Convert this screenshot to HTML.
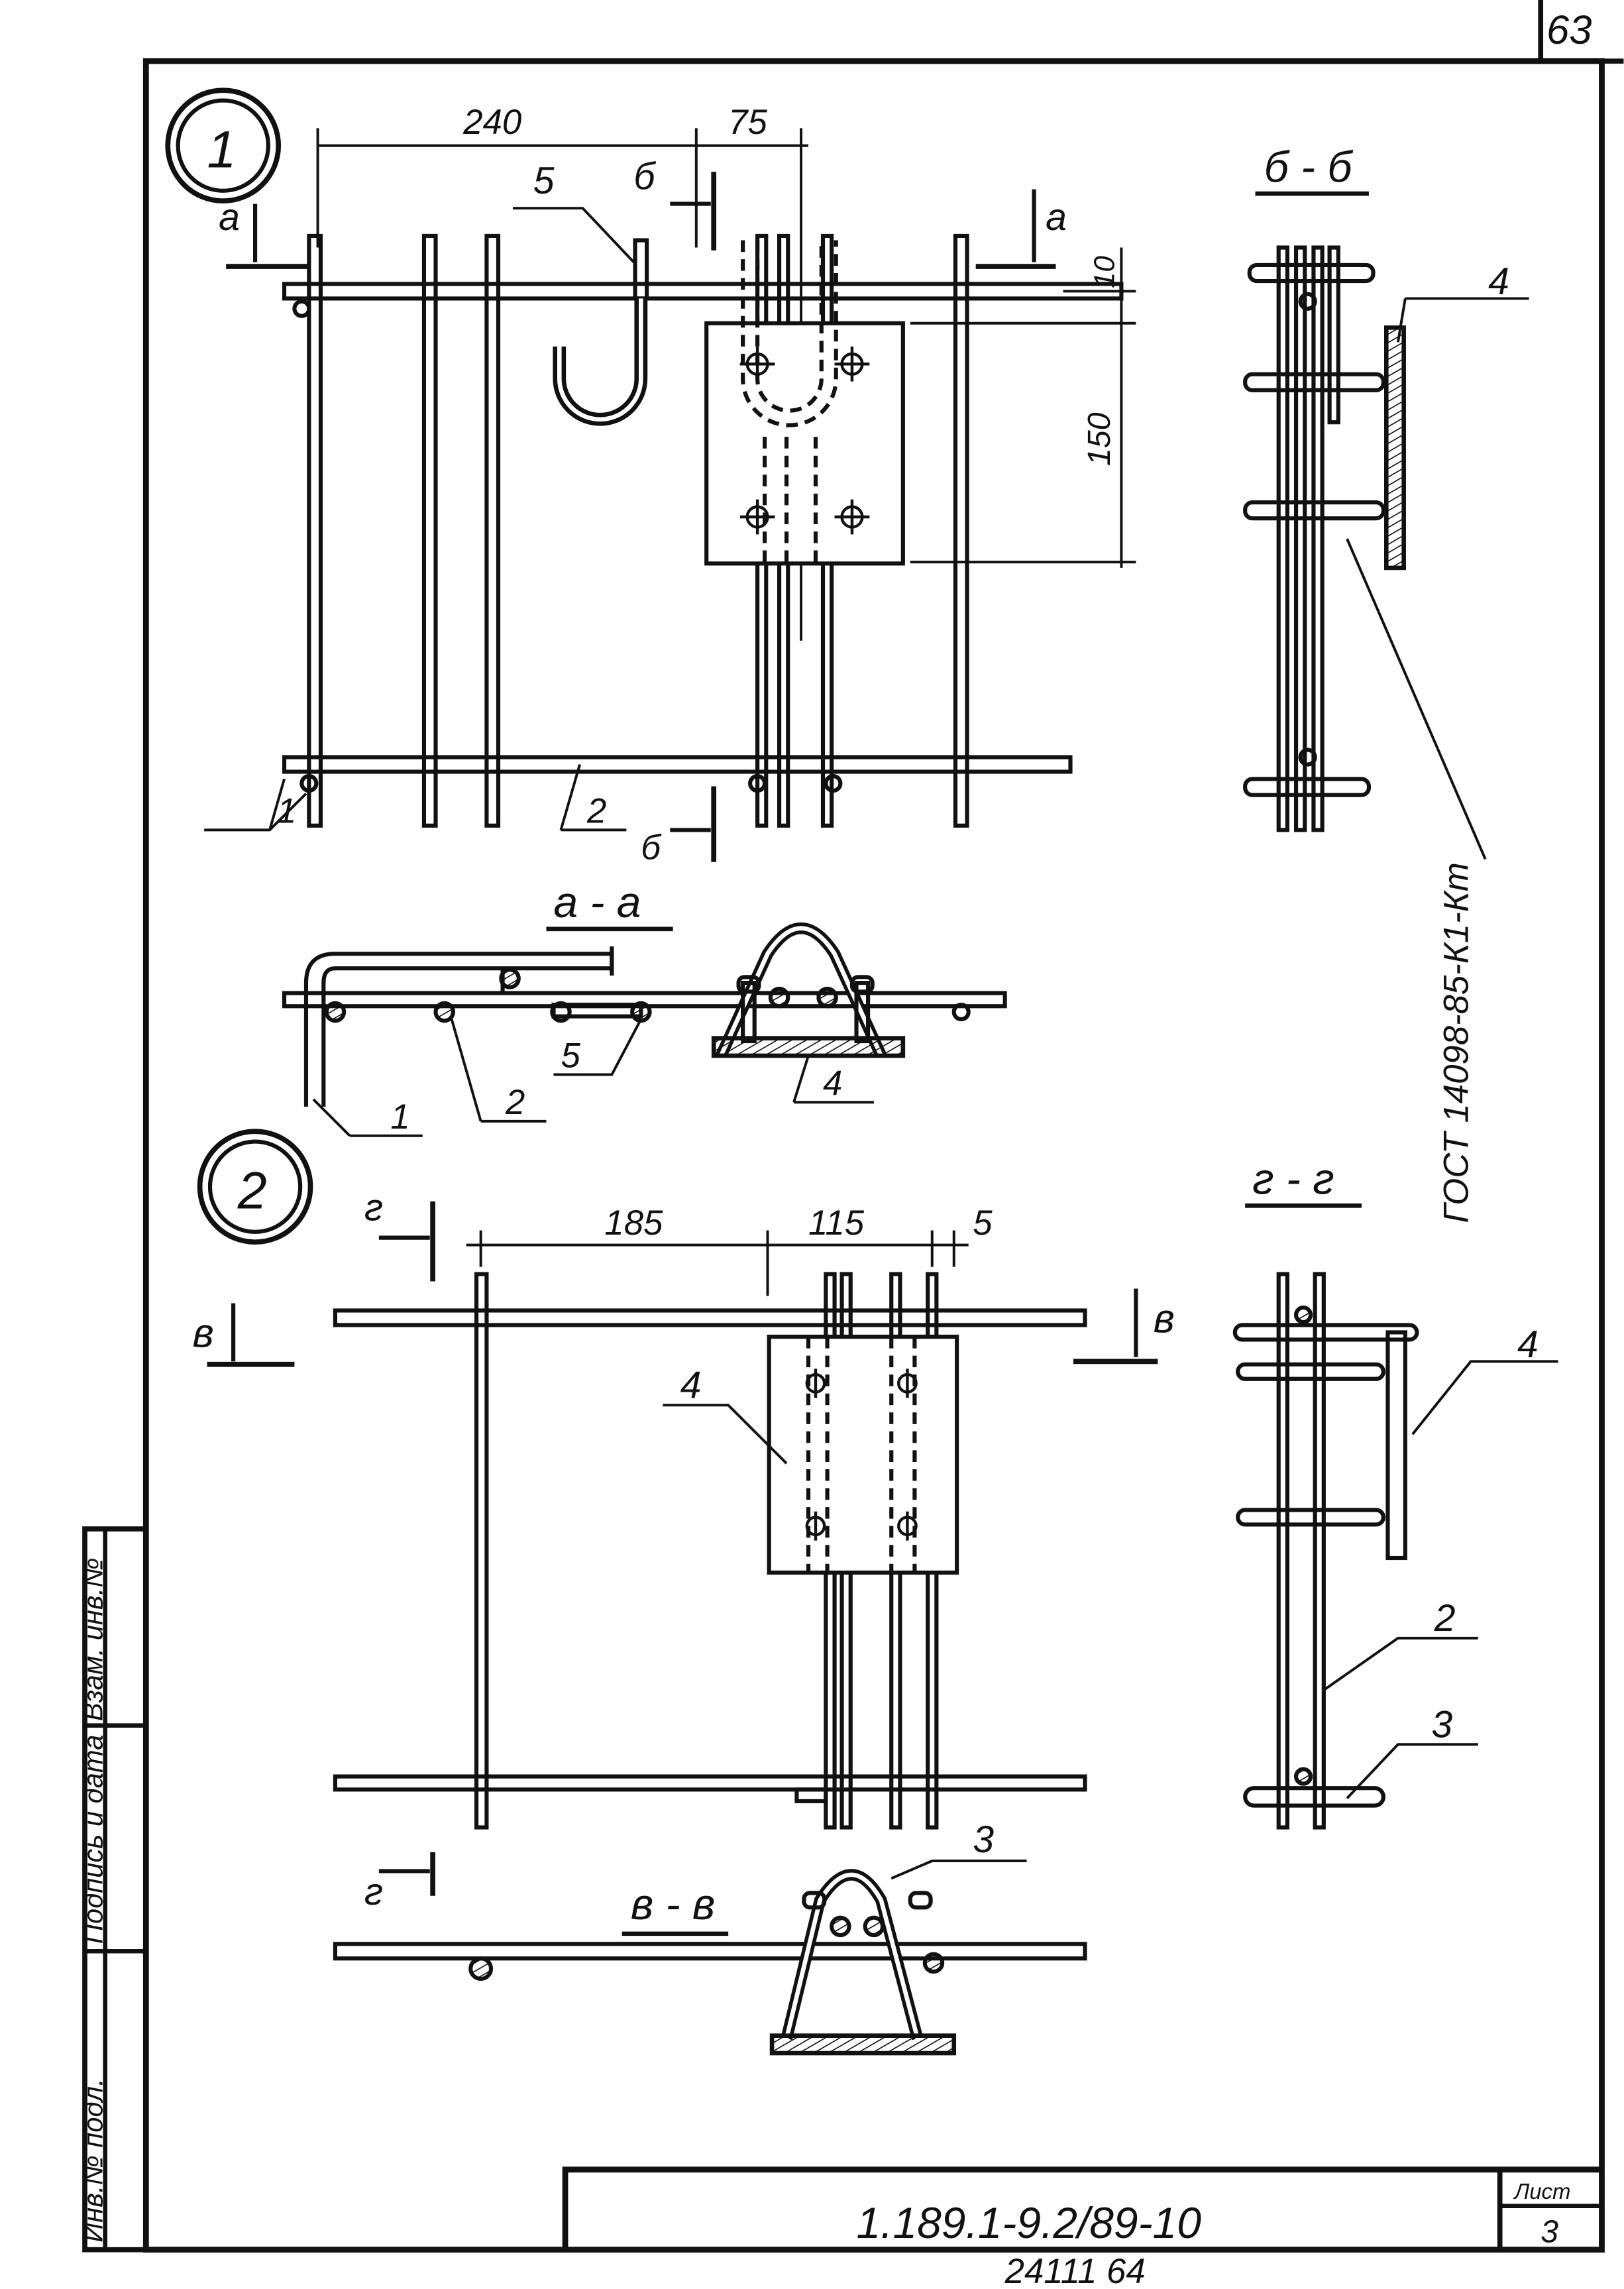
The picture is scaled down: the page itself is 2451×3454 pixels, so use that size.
<!DOCTYPE html>
<html><head><meta charset="utf-8"><style>
html,body{margin:0;padding:0;background:#fff}
svg{display:block}
text{font-family:"Liberation Sans","DejaVu Sans",sans-serif;font-style:italic;fill:#111}
</style></head><body>
<svg width="2451" height="3454" viewBox="0 0 1115 1572" xmlns="http://www.w3.org/2000/svg" fill="none" stroke="#111" stroke-width="2.8">
<defs>
<pattern id="h" width="5" height="5" patternUnits="userSpaceOnUse" patternTransform="rotate(60)"><line x1="0" y1="0" x2="0" y2="5" stroke="#111" stroke-width="1.5"/></pattern>
</defs>
<polyline points="1058,0 1058,42 1115,42" stroke-width="3.5"/>
<text x="1062" y="30" font-size="28" stroke="none">63</text>
<rect x="100" y="42" width="1000" height="1503" stroke-width="4"/>
<rect x="58" y="1050" width="42" height="495" stroke-width="3.5"/>
<line x1="72" y1="1050" x2="72" y2="1545" stroke-width="3"/>
<line x1="58" y1="1185" x2="100" y2="1185" stroke-width="3"/>
<line x1="58" y1="1340" x2="100" y2="1340" stroke-width="3"/>
<text transform="translate(70,1182) rotate(-90)" font-size="19" stroke="none">Взам. инв.№</text>
<text transform="translate(70,1335) rotate(-90)" font-size="19" stroke="none">Подпись и дата</text>
<text transform="translate(70,1540) rotate(-90)" font-size="19" stroke="none">Инв.№ подл.</text>
<polyline points="388,1545 388,1490 1100,1490" stroke-width="4"/>
<line x1="1030" y1="1490" x2="1030" y2="1545" stroke-width="3.5"/>
<line x1="1030" y1="1515" x2="1100" y2="1515" stroke-width="3"/>
<text x="1040" y="1510" font-size="15" stroke="none">Лист</text>
<text x="1058" y="1540" font-size="22" stroke="none">3</text>
<text x="588" y="1537" font-size="30" stroke="none">1.189.1-9.2/89-10</text>
<text x="690" y="1568" font-size="24" stroke="none">24111  64</text>

<circle cx="153" cy="100" r="38" stroke-width="3.5"/><circle cx="153" cy="100" r="31"/>
<text x="142" y="115" font-size="36" stroke="none">1</text>
<line x1="218" y1="100" x2="555" y2="100" stroke-width="1.8"/>
<line x1="218" y1="88" x2="218" y2="170" stroke-width="1.8"/>
<line x1="478" y1="88" x2="478" y2="170" stroke-width="1.8"/>
<line x1="550" y1="88" x2="550" y2="440" stroke-width="1.8"/>
<text x="318" y="92" font-size="24" stroke="none">240</text>
<text x="500" y="92" font-size="24" stroke="none">75</text>
<line x1="625" y1="222" x2="780" y2="222" stroke-width="1.8"/>
<line x1="625" y1="386" x2="780" y2="386" stroke-width="1.8"/>
<line x1="730" y1="200" x2="780" y2="200" stroke-width="1.8"/>
<line x1="770" y1="170" x2="770" y2="390" stroke-width="1.8"/>
<text transform="translate(762,320) rotate(-90)" font-size="22" stroke="none">150</text>
<text transform="translate(765,198) rotate(-90)" font-size="20" stroke="none">10</text>
<polyline points="155,183 212,183" stroke-width="3.5"/><line x1="175" y1="140" x2="175" y2="180"/>
<text x="150" y="158" font-size="26" stroke="none">a</text>
<polyline points="670,183 725,183" stroke-width="3.5"/><line x1="710" y1="130" x2="710" y2="180"/>
<text x="718" y="158" font-size="26" stroke="none">a</text>
<line x1="490" y1="118" x2="490" y2="172" stroke-width="3.5"/><line x1="460" y1="140" x2="488" y2="140"/>
<text x="435" y="130" font-size="26" stroke="none">б</text>
<line x1="490" y1="540" x2="490" y2="592" stroke-width="3.5"/><line x1="460" y1="570" x2="488" y2="570"/>
<text x="440" y="590" font-size="24" stroke="none">б</text>
<rect x="195" y="195" width="575" height="10"/>
<rect x="195" y="520" width="540" height="10"/>
<g>
<rect x="212" y="162" width="8" height="405"/><rect x="291" y="162" width="8" height="405"/>
<rect x="334" y="162" width="8" height="405"/><rect x="520" y="162" width="6" height="405"/>
<rect x="535" y="162" width="6" height="405"/><rect x="565" y="162" width="6" height="405"/>
<rect x="656" y="162" width="8" height="405"/>
<rect x="436" y="165" width="8" height="40"/>
</g>
<circle cx="207" cy="212" r="5"/><circle cx="212" cy="538" r="5"/><circle cx="520" cy="538" r="5"/><circle cx="572" cy="538" r="5"/>
<path d="M440,205 L440,260 A28,28 0 0 1 384,260 L384,238" stroke-width="9"/>
<path d="M440,205 L440,260 A28,28 0 0 1 384,260 L384,238" stroke="#fff" stroke-width="3"/>
<rect x="485" y="222" width="135" height="165" fill="#fff"/>
<path d="M510,165 L510,260 A32,32 0 0 0 574,260 L574,165" stroke-dasharray="8,5"/>
<path d="M520,165 L520,260 A22,22 0 0 0 564,260 L564,165" stroke-dasharray="8,5"/>
<line x1="525" y1="300" x2="525" y2="387" stroke-dasharray="8,5"/>
<line x1="540" y1="300" x2="540" y2="387" stroke-dasharray="8,5"/>
<line x1="560" y1="300" x2="560" y2="387" stroke-dasharray="8,5"/>
<g stroke-width="2"><circle cx="520" cy="250" r="7"/><circle cx="585" cy="250" r="7"/><circle cx="520" cy="355" r="7"/><circle cx="585" cy="355" r="7"/>
<path d="M508,250h24M520,238v24M573,250h24M585,238v24M508,355h24M520,343v24M573,355h24M585,343v24"/></g>
<text x="366" y="133" font-size="26" stroke="none">5</text>
<polyline points="352,143 400,143 435,180" stroke-width="1.8"/>
<polyline points="140,570 185,570 210,545" stroke-width="1.8"/><line x1="185" y1="570" x2="195" y2="535" stroke-width="1.8"/>
<text x="190" y="565" font-size="24" stroke="none">1</text>
<polyline points="385,570 430,570" stroke-width="1.8"/><line x1="385" y1="570" x2="398" y2="525" stroke-width="1.8"/>
<text x="403" y="565" font-size="24" stroke="none">2</text>

<text x="380" y="630" font-size="30" stroke="none">a - a</text>
<line x1="375" y1="638" x2="462" y2="638" stroke-width="3"/>
<rect x="195" y="682" width="495" height="9"/>
<path d="M210,760 L210,675 Q210,655 230,655 L420,655 L420,665 L230,665 Q222,665 222,675 L222,760"/>
<line x1="420" y1="650" x2="420" y2="670"/>
<line x1="345" y1="665" x2="345" y2="682"/>
<circle cx="230" cy="695" r="6" fill="url(#h)"/><circle cx="305" cy="695" r="6" fill="url(#h)"/><circle cx="350" cy="672" r="6" fill="url(#h)"/>
<circle cx="385" cy="695" r="6"/><circle cx="440" cy="695" r="6" fill="url(#h)"/><circle cx="660" cy="695" r="5"/>
<rect x="380" y="690" width="60" height="8"/>
<path d="M495,725 L527,655 Q550,620 573,655 L605,725" stroke-width="8"/>
<path d="M495,725 L527,655 Q550,620 573,655 L605,725" stroke="#fff" stroke-width="3"/>
<rect x="510" y="675" width="8" height="40"/><rect x="588" y="675" width="8" height="40"/>
<rect x="507" y="671" width="14" height="10" rx="4"/><rect x="585" y="671" width="14" height="10" rx="4"/>
<circle cx="535" cy="685" r="6" fill="url(#h)"/><circle cx="568" cy="685" r="6" fill="url(#h)"/>
<rect x="490" y="713" width="130" height="12" fill="url(#h)" stroke-width="3"/>
<polyline points="240,780 290,780" stroke-width="1.8"/><line x1="240" y1="780" x2="215" y2="755" stroke-width="1.8"/>
<text x="268" y="775" font-size="24" stroke="none">1</text>
<polyline points="330,770 375,770" stroke-width="1.8"/><line x1="330" y1="770" x2="310" y2="700" stroke-width="1.8"/>
<text x="347" y="765" font-size="24" stroke="none">2</text>
<polyline points="380,738 420,738 440,700" stroke-width="1.8"/>
<text x="385" y="733" font-size="24" stroke="none">5</text>
<polyline points="545,757 600,757" stroke-width="1.8"/><line x1="545" y1="757" x2="555" y2="725" stroke-width="1.8"/>
<text x="565" y="752" font-size="24" stroke="none">4</text>

<text x="868" y="125" font-size="30" stroke="none">б - б</text>
<line x1="862" y1="133" x2="940" y2="133" stroke-width="3"/>
<rect x="878" y="170" width="6" height="400"/><rect x="890" y="170" width="6" height="400"/><rect x="902" y="170" width="6" height="400"/><rect x="913" y="170" width="6" height="120"/>
<rect x="858" y="182" width="85" height="11" rx="5"/>
<rect x="855" y="257" width="95" height="11" rx="5"/><rect x="855" y="345" width="95" height="11" rx="5"/>
<rect x="855" y="535" width="85" height="11" rx="5"/>
<circle cx="898" cy="207" r="5"/><circle cx="898" cy="520" r="5"/>
<rect x="952" y="225" width="12" height="165" fill="url(#h)" stroke-width="3"/>
<polyline points="965,205 1050,205" stroke-width="1.8"/><line x1="965" y1="205" x2="960" y2="235" stroke-width="1.8"/>
<text x="1022" y="202" font-size="26" stroke="none">4</text>
<line x1="925" y1="370" x2="1020" y2="590" stroke-width="1.8"/>
<text transform="translate(1008,840) rotate(-90)" font-size="24" stroke="none">ГОСТ 14098-85-К1-Кт</text>

<circle cx="175" cy="815" r="38" stroke-width="3.5"/><circle cx="175" cy="815" r="31"/>
<text x="163" y="830" font-size="36" stroke="none">2</text>
<line x1="320" y1="855" x2="665" y2="855" stroke-width="1.8"/>
<line x1="330" y1="845" x2="330" y2="870" stroke-width="1.8"/>
<line x1="527" y1="845" x2="527" y2="890" stroke-width="1.8"/>
<line x1="640" y1="845" x2="640" y2="870" stroke-width="1.8"/>
<line x1="655" y1="845" x2="655" y2="870" stroke-width="1.8"/>
<text x="415" y="848" font-size="24" stroke="none">185</text>
<text x="555" y="848" font-size="24" stroke="none">115</text>
<text x="668" y="848" font-size="24" stroke="none">5</text>
<line x1="297" y1="825" x2="297" y2="880" stroke-width="3.5"/><line x1="260" y1="850" x2="295" y2="850"/>
<text x="250" y="838" font-size="26" stroke="none">г</text>
<line x1="297" y1="1272" x2="297" y2="1302" stroke-width="3.5"/><line x1="260" y1="1285" x2="295" y2="1285"/>
<text x="250" y="1308" font-size="26" stroke="none">г</text>
<polyline points="142,937 202,937" stroke-width="3.5"/><line x1="160" y1="895" x2="160" y2="935"/>
<text x="132" y="925" font-size="28" stroke="none">в</text>
<polyline points="737,935 795,935" stroke-width="3.5"/><line x1="780" y1="885" x2="780" y2="932"/>
<text x="792" y="915" font-size="28" stroke="none">в</text>
<rect x="230" y="900" width="515" height="10"/>
<rect x="230" y="1220" width="515" height="9"/>
<rect x="327" y="875" width="7" height="380"/>
<rect x="567" y="875" width="6" height="380"/><rect x="578" y="875" width="6" height="380"/>
<rect x="612" y="875" width="6" height="380"/><rect x="637" y="875" width="6" height="380"/>
<rect x="547" y="1229" width="20" height="8"/>
<rect x="528" y="918" width="129" height="162" fill="#fff"/>
<g stroke-dasharray="8,5"><line x1="555" y1="918" x2="555" y2="1080"/><line x1="568" y1="918" x2="568" y2="1080"/><line x1="612" y1="918" x2="612" y2="1080"/><line x1="628" y1="918" x2="628" y2="1080"/></g>
<g stroke-width="2"><circle cx="560" cy="950" r="6"/><circle cx="623" cy="950" r="6"/><circle cx="560" cy="1048" r="6"/><circle cx="623" cy="1048" r="6"/>
<path d="M560,940v20M623,940v20M560,1038v20M623,1038v20"/></g>
<polyline points="455,965 500,965 540,1005" stroke-width="1.8"/>
<text x="467" y="960" font-size="26" stroke="none">4</text>

<text x="860" y="820" font-size="30" stroke="none">г - г</text>
<line x1="855" y1="828" x2="935" y2="828" stroke-width="3"/>
<rect x="878" y="875" width="6" height="380"/><rect x="903" y="875" width="6" height="380"/>
<rect x="848" y="910" width="125" height="10" rx="5"/>
<rect x="850" y="937" width="100" height="10" rx="5"/><rect x="850" y="1037" width="100" height="10" rx="5"/>
<rect x="855" y="1228" width="95" height="12" rx="6"/>
<circle cx="895" cy="903" r="5" fill="url(#h)"/><circle cx="895" cy="1220" r="5" fill="url(#h)"/>
<rect x="953" y="915" width="12" height="155"/>
<polyline points="970,985 1010,935 1070,935" stroke-width="1.8"/>
<text x="1042" y="932" font-size="26" stroke="none">4</text>
<polyline points="910,1160 960,1125 1015,1125" stroke-width="1.8"/>
<text x="985" y="1120" font-size="26" stroke="none">2</text>
<polyline points="925,1235 960,1198 1015,1198" stroke-width="1.8"/>
<text x="983" y="1193" font-size="26" stroke="none">3</text>

<text x="433" y="1318" font-size="30" stroke="none">в - в</text>
<line x1="427" y1="1328" x2="500" y2="1328" stroke-width="3"/>
<rect x="230" y="1335" width="515" height="10"/>
<circle cx="330" cy="1352" r="7" fill="url(#h)"/>
<path d="M540,1400 L563,1305 Q585,1270 605,1305 L630,1400" stroke-width="8"/>
<path d="M540,1400 L563,1305 Q585,1270 605,1305 L630,1400" stroke="#fff" stroke-width="3"/>
<rect x="552" y="1300" width="14" height="10" rx="4"/><rect x="625" y="1300" width="14" height="10" rx="4"/>
<circle cx="577" cy="1323" r="6" fill="url(#h)"/><circle cx="600" cy="1323" r="6" fill="url(#h)"/><circle cx="641" cy="1348" r="6" fill="url(#h)"/>
<rect x="530" y="1398" width="125" height="12" fill="url(#h)" stroke-width="3"/>
<polyline points="612,1290 640,1278 705,1278" stroke-width="1.8"/>
<text x="668" y="1272" font-size="26" stroke="none">3</text>
</svg>
</body></html>
